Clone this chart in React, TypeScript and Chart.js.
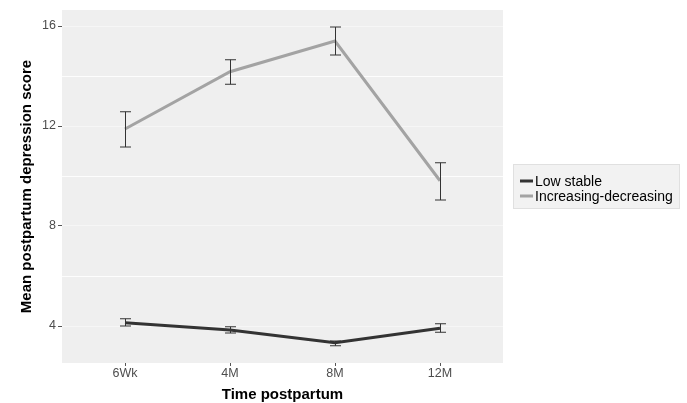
import React, { useEffect, useRef } from "react";
import { Chart, registerables } from "chart.js";

Chart.register(...registerables);

const timepoints = ["6Wk", "4M", "8M", "12M"];
const yTickValues = [4, 6, 8, 10, 12, 14, 16];
const seriesNames = ["Low stable", "Increasing-decreasing"];

const lowStableMean = [4.13, 3.84, 3.33, 3.91];
const lowStableLower = [4.0, 3.72, 3.21, 3.75];
const lowStableUpper = [4.29, 3.97, 3.4, 4.09];

const incDecMean = [11.88, 14.17, 15.4, 9.81];
const incDecLower = [11.16, 13.67, 14.84, 9.04];
const incDecUpper = [12.57, 14.65, 15.96, 10.53];

const COLORS = ["#333333", "#A3A3A3"];
const FONT = "'Liberation Sans', Arial, sans-serif";

export default function App() {
  const ref = useRef<HTMLCanvasElement>(null);
  useEffect(() => {
    if (!ref.current) return;
    const lowers = [lowStableLower, incDecLower];
    const uppers = [lowStableUpper, incDecUpper];

    const decorPlugin = {
      id: "decor",
      beforeDraw(chart: any) {
        const { ctx, chartArea } = chart;
        ctx.save();
        ctx.fillStyle = "#EFEFEF";
        ctx.fillRect(chartArea.left, chartArea.top, chartArea.right - chartArea.left, chartArea.bottom - chartArea.top);
        ctx.restore();
      },
      afterDatasetsDraw(chart: any) {
        const { ctx } = chart;
        const xs = chart.scales.x;
        const ys = chart.scales.y;
        ctx.save();
        ctx.strokeStyle = "#333333";
        ctx.lineWidth = 1;
        for (let s = 0; s < 2; s++) {
          for (let i = 0; i < timepoints.length; i++) {
            const x = Math.round(xs.getPixelForValue(i)) + 0.5;
            const yl = ys.getPixelForValue(lowers[s][i]);
            const yu = ys.getPixelForValue(uppers[s][i]);
            ctx.beginPath();
            ctx.moveTo(x, yl);
            ctx.lineTo(x, yu);
            ctx.moveTo(x - 5.5, yl);
            ctx.lineTo(x + 5.5, yl);
            ctx.moveTo(x - 5.5, yu);
            ctx.lineTo(x + 5.5, yu);
            ctx.stroke();
          }
        }
        ctx.restore();
      },
      afterDraw(chart: any) {
        const { ctx, chartArea } = chart;
        ctx.save();
        // axis titles
        ctx.fillStyle = "#000000";
        ctx.font = `bold 15px ${FONT}`;
        ctx.textAlign = "center";
        ctx.textBaseline = "middle";
        ctx.fillText("Time postpartum", (chartArea.left + chartArea.right) / 2, 395);
        ctx.save();
        ctx.translate(27, (chartArea.top + chartArea.bottom) / 2);
        ctx.rotate(-Math.PI / 2);
        ctx.fillText("Mean postpartum depression score", 0, 0);
        ctx.restore();
        // legend
        const bx = 513, by = 164, bw = 166, bh = 44;
        ctx.fillStyle = "#F2F2F2";
        ctx.fillRect(bx, by, bw, bh);
        ctx.strokeStyle = "#E0E0E0";
        ctx.lineWidth = 1;
        ctx.strokeRect(bx + 0.5, by + 0.5, bw, bh);
        ctx.font = `14px ${FONT}`;
        ctx.textAlign = "left";
        for (let s = 0; s < seriesNames.length; s++) {
          const cy = 181 + s * 15;
          ctx.strokeStyle = COLORS[s];
          ctx.lineWidth = 3;
          ctx.beginPath();
          ctx.moveTo(520, cy);
          ctx.lineTo(533, cy);
          ctx.stroke();
          ctx.fillStyle = "#000000";
          ctx.fillText(seriesNames[s], 535, cy + 1);
        }
        ctx.restore();
      },
    };

    const chart = new Chart(ref.current, {
      type: "line",
      data: {
        datasets: [
          {
            label: seriesNames[0],
            data: lowStableMean.map((v, i) => ({ x: i, y: v })),
            borderColor: COLORS[0],
            borderWidth: 3,
            pointRadius: 0,
            fill: false,
            tension: 0,
          },
          {
            label: seriesNames[1],
            data: incDecMean.map((v, i) => ({ x: i, y: v })),
            borderColor: COLORS[1],
            borderWidth: 3,
            pointRadius: 0,
            fill: false,
            tension: 0,
          },
        ],
      },
      options: {
        animation: false,
        responsive: false,
        maintainAspectRatio: false,
        layout: { padding: { top: 10, right: 184, left: 0, bottom: 0 } },
        plugins: { legend: { display: false }, tooltip: { enabled: false } },
        scales: {
          x: {
            type: "linear",
            min: -0.6,
            max: 3.6,
            afterBuildTicks: (s: any) => {
              s.ticks = timepoints.map((_, i) => ({ value: i }));
            },
            afterFit: (s: any) => {
              s.height = 40;
            },
            grid: {
              drawOnChartArea: false,
              drawTicks: true,
              tickLength: 3,
              tickColor: "#555555",
            },
            border: { display: false },
            ticks: {
              padding: 0,
              color: "#4D4D4D",
              font: { family: FONT, size: 12.5 },
              callback: (v: any) => timepoints[Math.round(v)] ?? "",
              maxRotation: 0,
            },
          },
          y: {
            type: "linear",
            min: 2.52,
            max: 16.64,
            afterBuildTicks: (s: any) => {
              s.ticks = yTickValues.map((v) => ({ value: v }));
            },
            afterFit: (s: any) => {
              s.width = 62;
            },
            grid: {
              drawTicks: true,
              tickLength: 4,
              color: (c: any) => (c.tick && c.tick.value % 4 === 0 ? "rgba(255,255,255,0.45)" : "rgba(255,255,255,0.85)"),
              tickColor: (c: any) => (c.tick && c.tick.value % 4 === 0 ? "#555555" : "rgba(0,0,0,0)"),
              lineWidth: 1,
            },
            border: { display: false },
            ticks: {
              padding: 2,
              color: "#4D4D4D",
              font: { family: FONT, size: 12.5 },
              callback: (v: any) => (v % 4 === 0 ? String(v) : ""),
            },
          },
        },
      },
      plugins: [decorPlugin],
    } as any);
    return () => chart.destroy();
  }, []);

  return (
    <div style={{ position: "fixed", left: 0, top: 0, width: 687, height: 403, background: "#fff" }}>
      <canvas ref={ref} width={687} height={403} style={{ width: 687, height: 403 }} />
    </div>
  );
}
